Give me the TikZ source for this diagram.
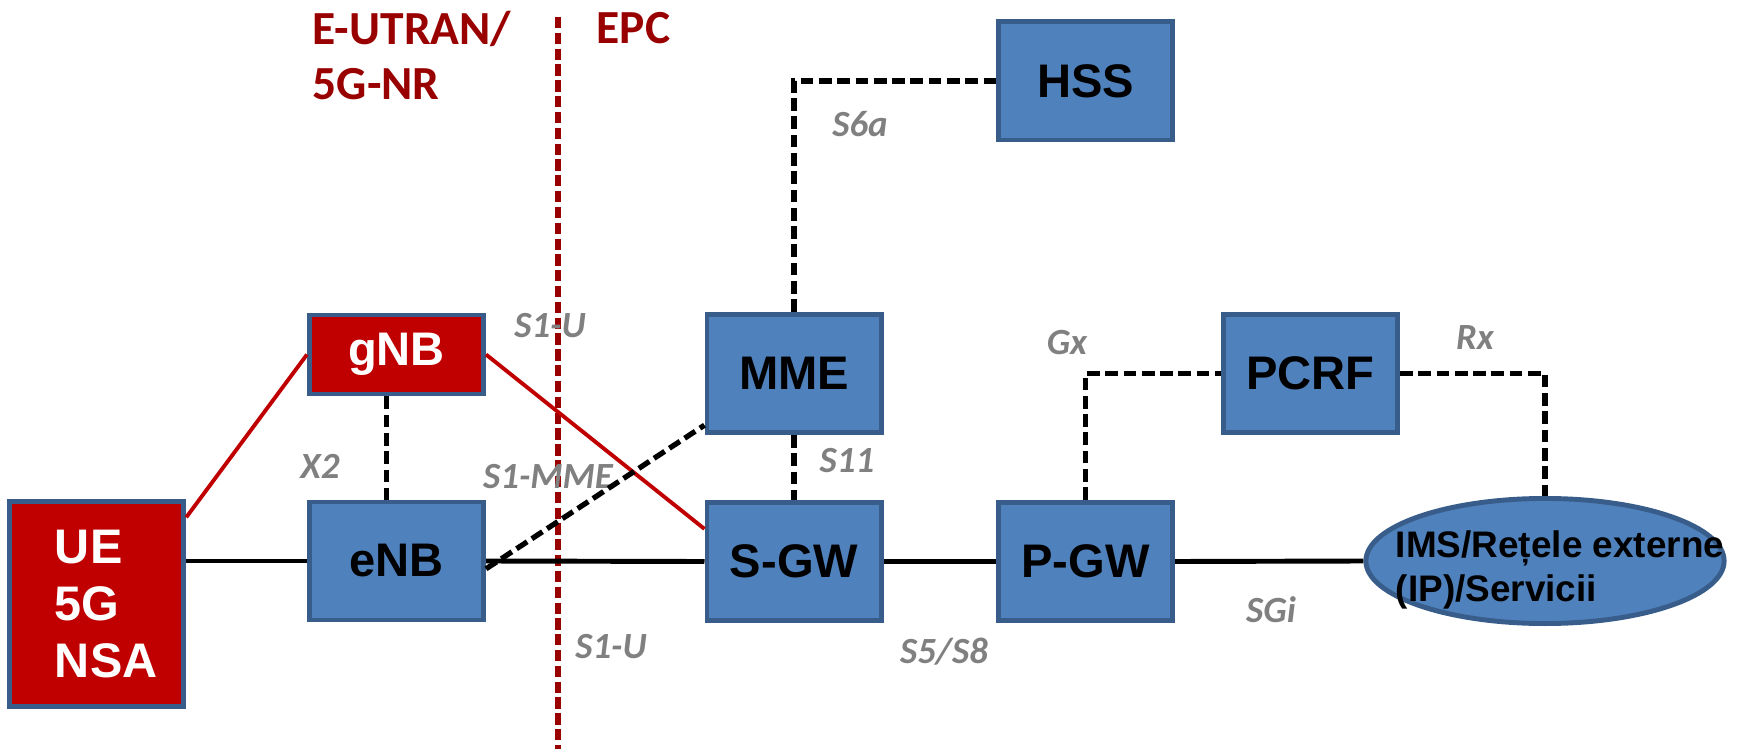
\documentclass[tikz,border=0pt]{standalone}
\usepackage{fontspec}
\setmainfont{Liberation Sans}
\newfontfamily\calibri{Carlito}
\usetikzlibrary{shapes.geometric}
\definecolor{nodeblue}{RGB}{79,129,189}
\definecolor{edgeblue}{RGB}{56,93,138}
\definecolor{nodered}{RGB}{192,0,0}
\definecolor{darkred}{RGB}{153,0,0}
\definecolor{labelgray}{RGB}{128,128,128}

\begin{document}
\begin{tikzpicture}[x=0.01cm, y=-0.01cm,
  box/.style={draw=edgeblue, line width=1.4pt, fill=nodeblue, minimum width=1.74cm,
    minimum height=1.18cm, inner sep=0pt, font=\fontsize{13.4}{16}\selectfont\bfseries},
  redbox/.style={box, fill=nodered, text=white},
  title/.style={darkred, inner sep=0pt, anchor=north west, align=left,
    font=\calibri\fontsize{13.5}{15.9}\selectfont\bfseries},
  iface/.style={labelgray, anchor=base, font=\calibri\fontsize{10.5}{12}\selectfont\bfseries\itshape},
  link/.style={line width=1.4pt},
  dlink/.style={line width=1.5pt, dash pattern=on 3.6pt off 1.6pt},
  nrlink/.style={nodered, line width=1.1pt}]
  \useasboundingbox (0,0) rectangle (1740,749);

  \draw[darkred, line width=1.6pt, dash pattern=on 3.2pt off 1.3pt] (558,17) -- (558,749);
  \node[title] (eutran) at (312,10) {E-UTRAN/\\5G-NR};
  \node[title] (epc) at (596,12) {EPC};

  \node[redbox, minimum width=1.745cm, minimum height=2.04cm, text width=0.83cm, align=left,
        font=\fontsize{13.8}{16.2}\selectfont\bfseries] (ue) at (96.5,604) {UE\\5G\\NSA};
  \node[redbox, minimum height=0.79cm] (gnb) at (396.5,354.5) {gNB};
  \node[box] (enb) at (396.5,561) {eNB};
  \node[box] (mme) at (794,373.5) {MME};
  \node[box] (sgw) at (794,561.5) {S-GW};
  \node[box] (hss) at (1085.5,81) {HSS};
  \node[box] (pgw) at (1085.5,561.5) {P-GW};
  \node[box] (pcrf) at (1310.5,373.5) {PCRF};
  \node[box, ellipse, minimum width=3.58cm, minimum height=1.25cm,
        label={[xshift=0.15cm, yshift=-0.09cm, align=left, font=\fontsize{10.5}{12.5}\selectfont\bfseries]center:IMS/Rețele externe\\(IP)/Servicii}] (ims) at (1545,561) {};

  \node[iface] (s1u) at (550,338) {S1-U};
  \node[iface] (x2) at (320,478) {X2};
  \node[iface] (s1mme) at (548,488) {S1-MME};
  \node[iface] (s1ub) at (611,658) {S1-U};
  \node[iface] (s6a) at (860,137) {S6a};
  \node[iface] (s11) at (847,472) {S11};
  \node[iface] (gx) at (1067,355) {Gx};
  \node[iface] (rx) at (1475,350) {Rx};
  \node[iface] (s5s8) at (944,663) {S5/S8};
  \node[iface] (sgi) at (1271,622) {SGi};

  \draw[link] (enb.west -| ue.east) -- (enb.west);
  \draw[link] (enb.east) -- (sgw.west);
  \draw[link] (sgw.east) -- (pgw.west);
  \draw[link] (pgw.east) -- (ims.west);
  \draw[nrlink] (ue.44) -- (gnb.west);
  \draw[nrlink] (gnb.east) -- (sgw.160);
  \draw[dlink] ([xshift=-0.1cm]gnb.south) -- ([xshift=-0.1cm]enb.north);
  \draw[dlink] (enb.-5) -- (mme.210);
  \draw[dlink] (mme.south) -- (sgw.north);
  \draw[dlink] (mme.north) |- (hss.west);
  \draw[dlink] (pgw.north) |- (pcrf.west);
  \draw[dlink] (pcrf.east) -| (ims.north);
\end{tikzpicture}
\end{document}
